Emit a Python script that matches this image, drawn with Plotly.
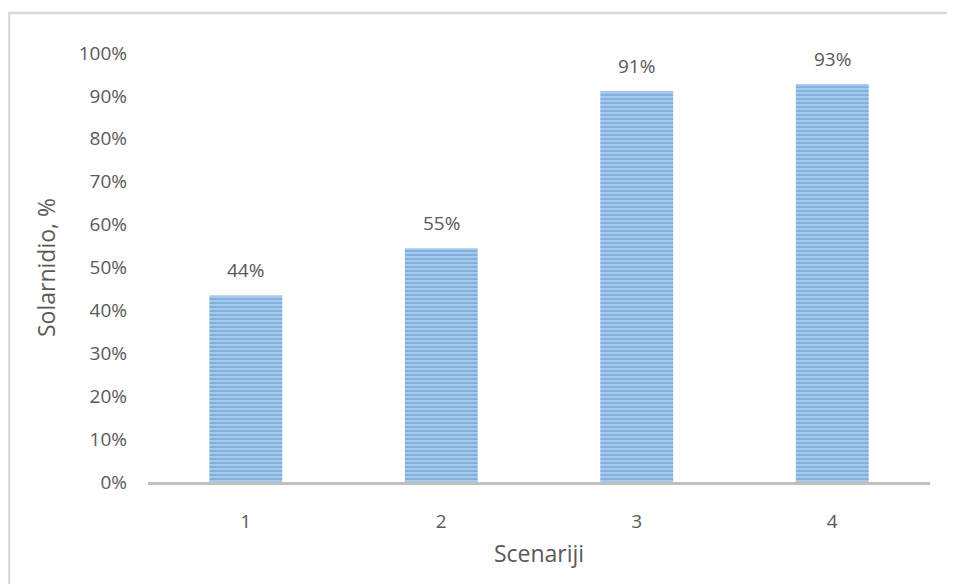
import plotly.graph_objects as go

# scenario share of solar
scenarios = ['1', '2', '3', '4']
solar_share = [0.435, 0.545, 0.911, 0.928]
share_labels = ['44%', '55%', '91%', '93%']

W, H = 955, 584
OFF = 8  # page body margin
L, R, T, B = 148 - OFF, 33, 53 - OFF, 110
pw, ph = W - L - R, H - T - B

txt = '#595959'
fnt = 'Open Sans'

fig = go.Figure(go.Bar(
    x=scenarios,
    y=solar_share,
    marker=dict(
        color='#b0cfed',
        line=dict(width=0),
        pattern=dict(shape='-', fgcolor='#5592d2', size=4, solidity=0.6),
    ),
))

# value labels above the bars, a bit higher than plotly's own outside text
for i, (v, lab) in enumerate(zip(solar_share, share_labels)):
    fig.add_annotation(x=i, y=v, text=lab, showarrow=False, yanchor='bottom',
                       yshift=10, font=dict(size=19, color=txt, family=fnt))

fig.update_layout(
    width=W, height=H,
    margin=dict(l=L, r=R, t=T, b=B),
    paper_bgcolor='white',
    plot_bgcolor='white',
    bargap=0.627,
    showlegend=False,
    font=dict(family=fnt, color=txt),
    xaxis=dict(
        type='category',
        showline=True, linecolor='#bfbfbf', linewidth=2.5,
        showgrid=False, ticks='', ticklabelstandoff=20,
        tickfont=dict(size=19, color=txt),
        title=dict(text='Scenariji', font=dict(size=23, color=txt), standoff=14),
    ),
    yaxis=dict(
        range=[0, 1], dtick=0.1, tickformat='.0%',
        showline=False, showgrid=False, zeroline=False,
        ticks='', ticklabelstandoff=20,
        tickfont=dict(size=19, color=txt),
        title=dict(text='Solarnidio, %', font=dict(size=23, color=txt), standoff=16),
    ),
)

# light frame round the chart (cut at right and bottom like the original)
fig.add_shape(
    type='rect', xref='paper', yref='paper',
    x0=(1 - L) / pw, x1=(W + 10 - L) / pw,
    y0=-(B + 10) / ph, y1=1 + (T - 5) / ph,
    line=dict(color='#d9d9d9', width=2.5), fillcolor='rgba(0,0,0,0)',
    layer='below',
)

fig.write_html('out.html')
